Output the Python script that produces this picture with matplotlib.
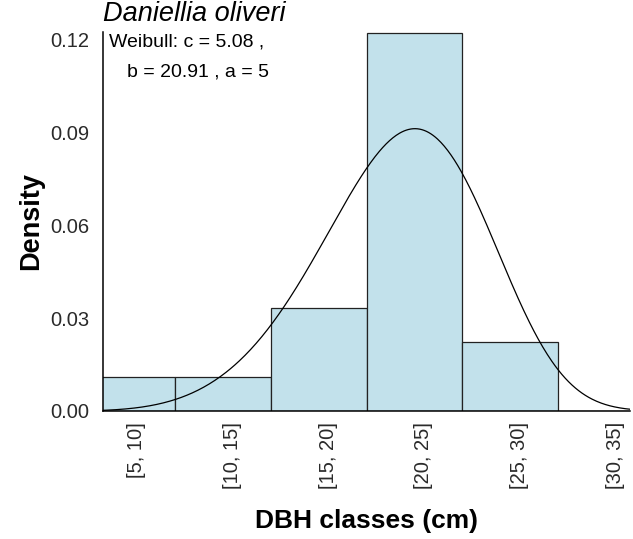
import numpy as np
import matplotlib
matplotlib.use("Agg")
import matplotlib.pyplot as plt

plt.rcParams['font.family'] = ['Liberation Sans', 'DejaVu Sans']

# Data
class_labels = ['[5, 10]', '[10, 15]', '[15, 20]', '[20, 25]', '[25, 30]', '[30, 35]']
class_upper = [10, 15, 20, 25, 30, 35]
density = [0.0111, 0.0111, 0.0333, 0.1222, 0.0222, 0.0]
weib_c, weib_b, weib_a = 5.08, 20.91, 5
species = 'Daniellia oliveri'

fig = plt.figure(figsize=(6.33, 5.39), dpi=100)
ax = fig.add_axes([103/633, 1 - 411/539, (630-103)/633, (411-32)/539])

ax.bar(class_upper, density, width=5, color='#C2E1EB', edgecolor='#222222', linewidth=0.9, zorder=2)

x = np.linspace(weib_a + 1e-6, 40, 600)
t = x - weib_a
pdf = (weib_c / weib_b) * (t / weib_b) ** (weib_c - 1) * np.exp(-(t / weib_b) ** weib_c)
ax.plot(x, pdf, color='black', linewidth=0.9, zorder=3)

ax.set_xlim(8.75, 36.25)
ax.set_ylim(0, 0.1225)
ax.set_yticks([0.0, 0.03, 0.06, 0.09, 0.12])
ax.set_yticklabels(['0.00', '0.03', '0.06', '0.09', '0.12'])
ax.set_xticks(class_upper)
ax.set_xticklabels(class_labels, rotation=90, ha='left', va='top')
ax.tick_params(axis='both', length=0, labelsize=14.5)
ax.tick_params(axis='x', pad=8)
ax.tick_params(axis='y', pad=10)
for lbl in ax.get_xticklabels() + ax.get_yticklabels():
    lbl.set_color('#2a2a2a')

ax.spines['top'].set_visible(False)
ax.spines['right'].set_visible(False)
ax.spines['left'].set_linewidth(1.1)
ax.spines['bottom'].set_linewidth(1.1)

ax.set_xlabel('DBH classes (cm)', fontsize=19, fontweight='bold', labelpad=14)
ax.set_ylabel('Density', fontsize=19.5, fontweight='bold', labelpad=4)

fig.text(103/633, 1 - 14/539, species, fontsize=19.5, fontstyle='italic', ha='left', va='center')
fig.text(109/633, 1 - 42/539, 'Weibull: c = 5.08 ,', fontsize=14, ha='left', va='center')
fig.text(127/633, 1 - 72/539, 'b = 20.91 , a = 5', fontsize=14, ha='left', va='center')

fig.savefig('out.png', dpi=100)
